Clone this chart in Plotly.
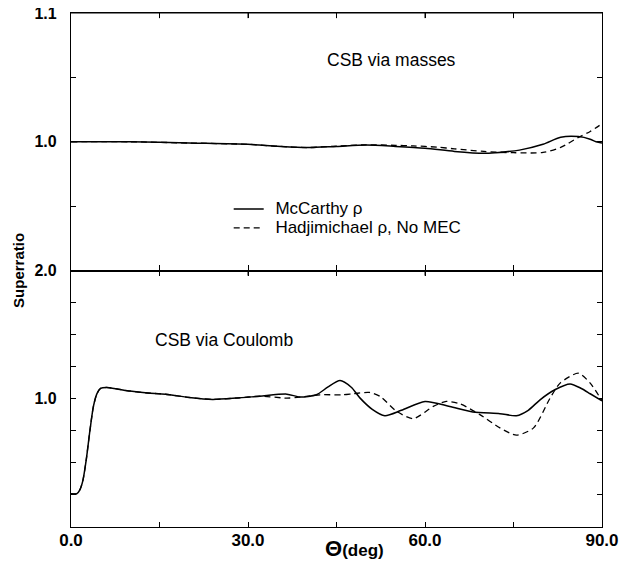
import plotly.graph_objects as go

# ---------------- data ----------------
# Top panel: CSB via masses
theta_top = [0, 10, 20, 30, 35, 40, 45, 50, 55, 60, 65, 70, 72, 76, 80, 83, 86, 88, 89, 90]
mass_mccarthy = [1.000, 1.000, 0.999, 0.998, 0.9965, 0.9955, 0.9964, 0.9974, 0.9964, 0.995,
                 0.9925, 0.991, 0.9915, 0.9935, 0.998, 1.0035, 1.004, 1.002, 1.000, 0.999]
theta_top_d = [0, 10, 20, 30, 35, 40, 45, 50, 55, 58, 62, 65, 70, 75, 80, 83, 86, 88, 90]
mass_hadji = [1.000, 1.000, 0.999, 0.998, 0.9965, 0.9955, 0.9966, 0.9976, 0.9972, 0.9968, 0.9958,
              0.9945, 0.9925, 0.9915, 0.9917, 0.9956, 1.0034, 1.008, 1.014]

# Bottom panel: CSB via Coulomb
theta_bot = [0, 1, 1.5, 2, 2.6, 3.2, 3.8, 4.4, 5, 6, 8, 10, 13, 16, 20, 24, 28, 32, 36.6, 38.8,
             41.6, 43.5, 45.6, 47.5, 49, 51, 53.2, 56, 60, 64.2, 68.1, 72.7, 75.5, 77.5, 79.5,
             82, 84.6, 86.5, 88, 90]
coul_mccarthy = [0.26, 0.26, 0.29, 0.36, 0.53, 0.75, 0.94, 1.04, 1.08, 1.088, 1.075, 1.06, 1.045,
                 1.035, 1.01, 0.995, 1.005, 1.02, 1.036, 1.013, 1.031, 1.09, 1.142, 1.09, 1.005,
                 0.92, 0.868, 0.91, 0.979, 0.94, 0.897, 0.884, 0.868, 0.91, 0.992, 1.07, 1.116,
                 1.08, 1.039, 0.984]
theta_bot_d = [0, 1, 1.5, 2, 2.6, 3.2, 3.8, 4.4, 5, 6, 8, 10, 13, 16, 20, 24, 28, 32, 36.6, 38.8,
               42.2, 46, 48, 50.6, 52.4, 55.2, 58, 61.4, 63.6, 65.9, 69.3, 72.7, 75.5, 78.4,
               81.2, 82.9, 86, 88, 90]
coul_hadji = [0.26, 0.26, 0.29, 0.36, 0.53, 0.75, 0.94, 1.04, 1.08, 1.088, 1.075, 1.06, 1.045,
              1.035, 1.01, 0.995, 1.005, 1.02, 1.005, 1.013, 1.031, 1.031, 1.04, 1.049, 1.018,
              0.902, 0.845, 0.94, 0.979, 0.961, 0.876, 0.773, 0.716, 0.773, 1.005, 1.122, 1.199,
              1.122, 0.984]

series_names = ["McCarthy \u03c1", "Hadjimichael \u03c1, No MEC"]
x_ticks = [0, 15, 30, 45, 60, 75, 90]
x_tick_text = ["0.0", "", "30.0", "", "60.0", "", "90.0"]
top_y_ticks = [0.9, 0.95, 1.0, 1.05, 1.1]
top_y_text = ["", "", "1.0", "", "1.1"]
bot_y_ticks = [0, 0.25, 0.5, 0.75, 1.0, 1.25, 1.5, 1.75, 2.0]
bot_y_text = ["", "", "", "", "1.0", "", "", "", "2.0"]

# ---------------- figure ----------------
FONT = "Liberation Sans, Arial, sans-serif"
fig = go.Figure()

solid = dict(color="black", width=1.5)
dashed = dict(color="black", width=1.3, dash="6px,4px")


def legend_label(s):
    return "\u00a0\u00a0<span style='font-size:17px'>" + s + "</span>"


fig.add_trace(go.Scatter(x=theta_top, y=mass_mccarthy, mode="lines", xaxis="x", yaxis="y",
                         name=legend_label(series_names[0]),
                         line=dict(**solid, shape="spline", smoothing=0.8)))
fig.add_trace(go.Scatter(x=theta_top_d, y=mass_hadji, mode="lines", xaxis="x", yaxis="y",
                         name=legend_label(series_names[1]),
                         line=dict(**dashed, shape="spline", smoothing=0.8)))
fig.add_trace(go.Scatter(x=theta_bot, y=coul_mccarthy, mode="lines", xaxis="x2", yaxis="y2",
                         name=series_names[0], showlegend=False,
                         line=dict(**solid, shape="spline", smoothing=0.7)))
fig.add_trace(go.Scatter(x=theta_bot_d, y=coul_hadji, mode="lines", xaxis="x2", yaxis="y2",
                         name=series_names[1], showlegend=False,
                         line=dict(**dashed, shape="spline", smoothing=0.7)))

axis_common = dict(showgrid=False, zeroline=False, showline=True, linecolor="black", linewidth=1.2,
                   mirror="ticks", ticks="inside", ticklen=5, tickwidth=1, tickcolor="black",
                   automargin=False, ticklabeloverflow="allow")

xtf = dict(family=FONT, size=17, color="black", weight="bold")
ytf = dict(family=FONT, size=16, color="black", weight="bold")
SPLIT = 0.499

fig.update_layout(
    xaxis=dict(range=[0, 90], domain=[0, 1], anchor="y", tickmode="array", tickvals=x_ticks,
               ticktext=x_tick_text, showticklabels=False, tickfont=xtf, **axis_common),
    yaxis=dict(range=[0.9, 1.1], domain=[SPLIT, 1.0], anchor="x", tickmode="array",
               tickvals=top_y_ticks, ticktext=top_y_text, ticklabelstandoff=10, tickfont=ytf,
               **axis_common),
    xaxis2=dict(range=[0, 90], domain=[0, 1], anchor="y2", tickmode="array", tickvals=x_ticks,
                ticktext=x_tick_text, ticklabelstandoff=-3, tickfont=xtf, **axis_common),
    yaxis2=dict(range=[0, 2.0], domain=[0.0, SPLIT], anchor="x2", tickmode="array",
                tickvals=bot_y_ticks, ticktext=bot_y_text, ticklabelstandoff=10, tickfont=ytf,
                **axis_common),
)

# frame: top edge of the upper panel and inward ticks on the panel tops
frame = dict(color="black", width=1.2)
fig.add_shape(type="line", xref="paper", yref="paper", x0=0, x1=1, y0=1, y1=1,
              line=frame, layer="above")
for t in x_ticks[1:-1]:
    fig.add_shape(type="line", xref="x", yref="y domain", x0=t, x1=t, y0=1, y1=0.98,
                  line=dict(color="black", width=1), layer="above")
    fig.add_shape(type="line", xref="x2", yref="y2 domain", x0=t, x1=t, y0=1, y1=0.98,
                  line=dict(color="black", width=1), layer="above")

txt = dict(family=FONT, size=17.5, color="black")
ann = dict(xref="paper", yref="paper", showarrow=False, xanchor="center", yanchor="middle")
fig.add_annotation(text="CSB via masses", x=0.603, y=0.908, font=txt, **ann)
fig.add_annotation(text="CSB via Coulomb", x=0.288, y=0.363, font=txt, **ann)
fig.add_annotation(text="<b>Superratio</b>", x=-0.1, y=0.5, textangle=-90,
                   font=dict(family=FONT, size=15, color="black"), **ann)
fig.add_annotation(text="<b><span style='font-size:22px'>\u0398</span>(deg)</b>",
                   x=0.533, y=-0.041, font=dict(family=FONT, size=17, color="black"), **ann)

# the page body adds an 8px offset, margins compensate for it
fig.update_layout(
    width=635, height=562,
    margin=dict(l=63, r=41, t=5, b=43, autoexpand=False),
    paper_bgcolor="white", plot_bgcolor="white",
    showlegend=True,
    legend=dict(x=0.297, y=0.647, xanchor="left", yanchor="top", bgcolor="rgba(0,0,0,0)",
                font=dict(family=FONT, size=12, color="black"), itemwidth=30,
                tracegroupgap=0),
)

fig.write_html("out.html")
